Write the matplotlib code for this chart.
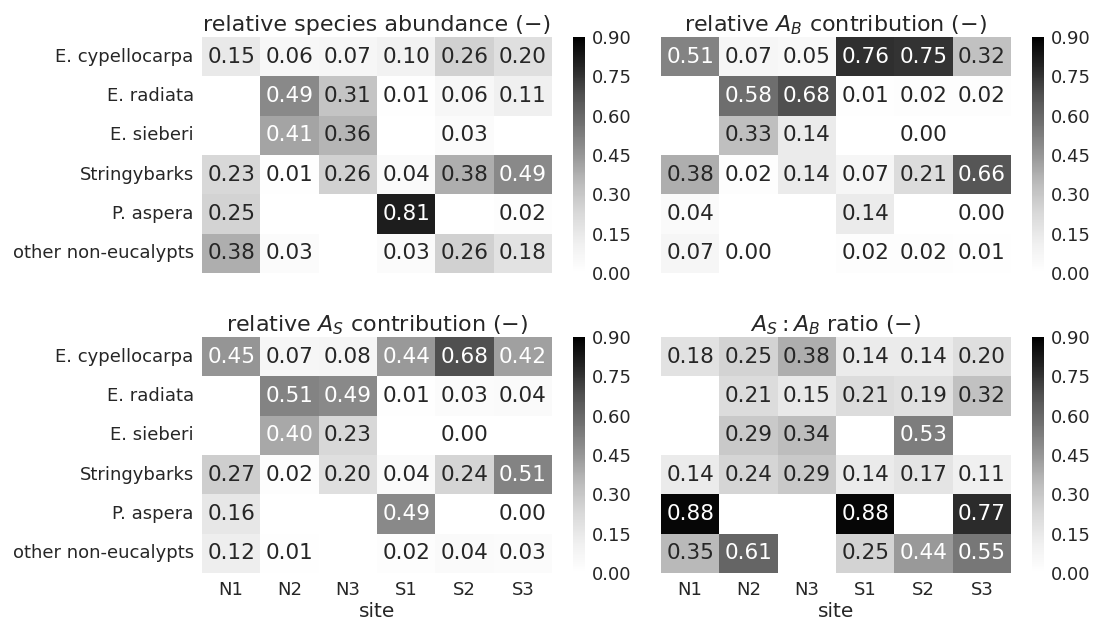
import numpy as np
import pandas as pd
import seaborn as sns
import matplotlib.pyplot as plt
from matplotlib.ticker import FormatStrFormatter

nan = np.nan

sites = ["N1", "N2", "N3", "S1", "S2", "S3"]
species = ["E. cypellocarpa", "E. radiata", "E. sieberi", "Stringybarks",
           "P. aspera", "other non-eucalypts"]

abundance = [
    [0.15, 0.06, 0.07, 0.10, 0.26, 0.20],
    [nan, 0.49, 0.31, 0.01, 0.06, 0.11],
    [nan, 0.41, 0.36, nan, 0.03, nan],
    [0.23, 0.01, 0.26, 0.04, 0.38, 0.49],
    [0.25, nan, nan, 0.81, nan, 0.02],
    [0.38, 0.03, nan, 0.03, 0.26, 0.18],
]
ab_contrib = [
    [0.51, 0.07, 0.05, 0.76, 0.75, 0.32],
    [nan, 0.58, 0.68, 0.01, 0.02, 0.02],
    [nan, 0.33, 0.14, nan, 0.00, nan],
    [0.38, 0.02, 0.14, 0.07, 0.21, 0.66],
    [0.04, nan, nan, 0.14, nan, 0.00],
    [0.07, 0.00, nan, 0.02, 0.02, 0.01],
]
as_contrib = [
    [0.45, 0.07, 0.08, 0.44, 0.68, 0.42],
    [nan, 0.51, 0.49, 0.01, 0.03, 0.04],
    [nan, 0.40, 0.23, nan, 0.00, nan],
    [0.27, 0.02, 0.20, 0.04, 0.24, 0.51],
    [0.16, nan, nan, 0.49, nan, 0.00],
    [0.12, 0.01, nan, 0.02, 0.04, 0.03],
]
as_ab_ratio = [
    [0.18, 0.25, 0.38, 0.14, 0.14, 0.20],
    [nan, 0.21, 0.15, 0.21, 0.19, 0.32],
    [nan, 0.29, 0.34, nan, 0.53, nan],
    [0.14, 0.24, 0.29, 0.14, 0.17, 0.11],
    [0.88, nan, nan, 0.88, nan, 0.77],
    [0.35, 0.61, nan, 0.25, 0.44, 0.55],
]

titles = [
    "relative species abundance (\u2212)",
    "relative $A_B$ contribution (\u2212)",
    "relative $A_S$ contribution (\u2212)",
    "$A_S:A_B$ ratio (\u2212)",
]
cbar_ticks = [0.0, 0.15, 0.30, 0.45, 0.60, 0.75, 0.90]


def main():
    sns.set_theme(style="white")
    plt.rcParams["font.family"] = ["DejaVu Sans"]
    plt.rcParams["text.color"] = ".15"
    plt.rcParams["xtick.color"] = ".15"
    plt.rcParams["ytick.color"] = ".15"

    W, H = 1097, 620
    fig = plt.figure(figsize=(W / 100, H / 100), dpi=100)

    def px_axes(x0, top, w, h):
        return fig.add_axes([x0 / W, 1 - (top + h) / H, w / W, h / H])

    tables = [abundance, ab_contrib, as_contrib, as_ab_ratio]
    lefts = [202, 661]
    tops = [37, 337]
    cbar_lefts = [573, 1032]

    for i, tbl in enumerate(tables):
        r, c = divmod(i, 2)
        df = pd.DataFrame(tbl, index=species, columns=sites)
        ax = px_axes(lefts[c], tops[r], 350, 236)
        cax = px_axes(cbar_lefts[c], tops[r], 12, 236)
        sns.heatmap(df, ax=ax, cbar_ax=cax, cmap="Greys", vmin=0, vmax=0.9,
                    annot=True, fmt=".2f", annot_kws={"size": 15.5})
        ax.set_title(titles[i], fontsize=16, pad=4)
        ax.tick_params(axis="y", length=0, labelsize=13, pad=6)
        ax.tick_params(axis="x", length=0, labelsize=13, pad=6)
        if c == 0:
            ax.set_yticklabels(species, rotation=0)
        else:
            ax.set_yticklabels([])
        if r == 1:
            ax.set_xticklabels(sites, rotation=0)
            ax.set_xlabel("site", fontsize=14.5, labelpad=2)
        else:
            ax.set_xticklabels([])
            ax.set_xlabel("")
        ax.set_ylabel("")

        cbar = ax.collections[0].colorbar
        cbar.set_ticks(cbar_ticks)
        cax.yaxis.set_major_formatter(FormatStrFormatter("%.2f"))
        cax.tick_params(length=0, labelsize=13, pad=5)
        cbar.outline.set_visible(False)

    fig.savefig("out.png", dpi=100)


if __name__ == "__main__":
    main()
